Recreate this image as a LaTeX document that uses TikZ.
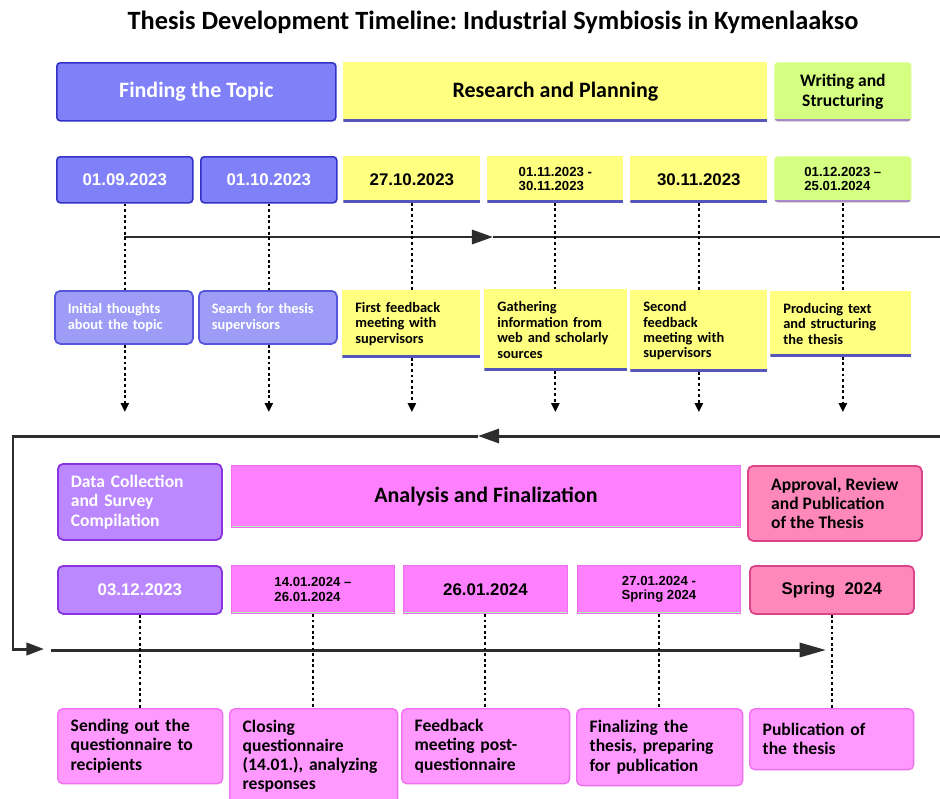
\documentclass[tikz,border=0pt]{standalone}
\usepackage{fontspec}
\setmainfont{Carlito}
\newfontfamily\datefont{Liberation Sans}
\usetikzlibrary{arrows.meta}
\frenchspacing

\definecolor{topicblue}{RGB}{128,128,248}
\definecolor{topicedge}{RGB}{50,50,200}
\definecolor{noteblue}{RGB}{157,157,248}
\definecolor{noteedge}{RGB}{85,85,221}
\definecolor{planyellow}{RGB}{255,255,128}
\definecolor{planedge}{RGB}{85,85,187}
\definecolor{writegreen}{RGB}{212,255,128}
\definecolor{writeedge}{RGB}{170,136,204}
\definecolor{datapurple}{RGB}{187,136,255}
\definecolor{dataedge}{RGB}{136,51,221}
\definecolor{finmagenta}{RGB}{255,128,255}
\definecolor{finedge}{RGB}{170,255,170}
\definecolor{notemagenta}{RGB}{255,153,255}
\definecolor{notemagentaedge}{RGB}{240,110,240}
\definecolor{pubpink}{RGB}{255,136,187}
\definecolor{pubedge}{RGB}{221,68,136}
\definecolor{linegrey}{RGB}{45,45,45}

\begin{document}
\begin{tikzpicture}[x=0.02cm, y=-0.02cm,
    box/.style 2 args={anchor=north west, minimum width=#1*0.02cm,
      minimum height=#2*0.02cm, inner sep=0pt, align=center},
    note/.style 2 args={anchor=north west, text width=#1*0.02cm-0.52cm,
      minimum height=#2*0.02cm, inner xsep=0.26cm, inner ysep=0pt, align=left,
      font=\bfseries\fontsize{8.2}{8.8}\selectfont},
    under/.style={path picture={\draw[#1, line width=2.2pt]
      (path picture bounding box.south west) -- (path picture bounding box.south east);}},
    phase/.style={font=\bfseries\fontsize{12.5}{14}\selectfont},
    subphase/.style={font=\bfseries\fontsize{10}{11}\selectfont},
    day/.style={font=\datefont\bfseries\fontsize{9.6}{11}\selectfont},
    span/.style={font=\datefont\bfseries\fontsize{7.5}{8}\selectfont, align=left},
    topicbox/.style={fill=topicblue, draw=topicedge, line width=0.9pt, rounded corners=2pt, text=white},
    topicnote/.style={fill=noteblue, draw=noteedge, line width=1pt, rounded corners=3pt, text=white},
    planbox/.style={fill=planyellow, under=planedge},
    writebox/.style={fill=writegreen, rounded corners=2pt, under=writeedge},
    databox/.style={fill=datapurple, draw=dataedge, line width=1pt, rounded corners=3pt, text=white},
    finbox/.style={fill=finmagenta, draw=notemagentaedge, line width=0.5pt, under=finedge},
    finnote/.style={fill=notemagenta, draw=notemagentaedge, line width=0.8pt, rounded corners=3pt,
      font=\bfseries\fontsize{10}{11}\selectfont},
    pubbox/.style={fill=pubpink, draw=pubedge, line width=1pt, rounded corners=3pt},
    timeline/.style={draw=linegrey, line width=1.7pt},
    dots/.style={line width=1.2pt, dash pattern=on 1.6pt off 1.6pt},
    drop/.style={-{Triangle[length=5pt, width=4.5pt]}}]
  \path[use as bounding box, fill=white] (0,0) rectangle (940,798);
  \node[font=\bfseries\fontsize{15}{17}\selectfont] (title) at (493,22)
    {Thesis Development Timeline: Industrial Symbiosis in Kymenlaakso};

  % first half: 2023
  \node[box={279}{58}, topicbox, phase] (topic) at (56,62) {Finding the Topic};
  \node[box={424}{59}, planbox, phase] (research) at (343,62) {Research and Planning};
  \node[box={137}{59}, writebox, subphase] (writing) at (774,62) {Writing and\\Structuring};

  \node[box={136}{46}, topicbox, day] (d1) at (56,156) {01.09.2023};
  \node[box={136}{46}, topicbox, day] (d2) at (200,156) {01.10.2023};
  \node[box={137}{46}, planbox, day] (d3) at (343,156) {27.10.2023};
  \node[box={136}{46}, planbox, span] (d4) at (487,156) {01.11.2023 -\\30.11.2023};
  \node[box={137}{46}, planbox, day] (d5) at (630,156) {30.11.2023};
  \node[box={137}{46}, writebox, span] (d6) at (774,156) {01.12.2023 –\\25.01.2024};

  \node[note={138}{53}, topicnote] (n1) at (54,290) {Initial thoughts\\about the topic};
  \node[note={138}{53}, topicnote] (n2) at (198,290) {Search for thesis\\supervisors};
  \node[note={138}{67}, planbox] (n3) at (342,290) {First feedback\\meeting with\\supervisors};
  \node[note={143}{81}, planbox] (n4) at (484,289) {Gathering\\information from\\web and scholarly\\sources};
  \node[note={137}{81}, planbox] (n5) at (630,290) {Second\\feedback\\meeting with\\supervisors};
  \node[note={141}{65}, planbox] (n6) at (770,291) {Producing text\\and structuring\\the thesis};

  % second half: 2024
  \node[note={164}{76}, databox, subphase] (collect) at (57,463) {Data Collection\\and Survey\\Compilation};
  \node[box={509}{62}, finbox, phase] (analysis) at (231,465) {Analysis and Finalization};
  \node[box={174}{75}, pubbox, subphase, align=left] (approval) at (747,465) {Approval, Review\\and Publication\\of the Thesis};

  \node[box={164}{48}, databox, day] (e1) at (57,565) {03.12.2023};
  \node[box={163}{48}, finbox, span] (e2) at (231,565) {14.01.2024 –\\26.01.2024};
  \node[box={164}{48}, finbox, day] (e3) at (403,565) {26.01.2024};
  \node[box={163}{48}, finbox, span, align=center] (e4) at (577,565) {27.01.2024 -\\Spring 2024};
  \node[box={164}{48}, pubbox, day] (e5) at (749,565) {Spring\ \ 2024};

  \node[note={165}{75}, finnote] (m1) at (57,708) {Sending out the\\questionnaire to\\recipients};
  \node[note={168}{95}, finnote] (m2) at (229,708) {Closing\\questionnaire\\(14.01.), analyzing\\responses};
  \node[note={168}{75}, finnote] (m3) at (401,708) {Feedback\\meeting post-\\questionnaire};
  \node[note={166}{77}, finnote] (m4) at (576,708) {Finalizing the\\thesis, preparing\\for publication};
  \node[note={164}{61}, finnote] (m5) at (749,708) {Publication of\\the thesis};

  % timeline, wrapped round to the second half
  \coordinate (ts) at (124,237);
  \coordinate (tm) at (493,237);
  \coordinate (te) at (940,237);
  \coordinate (us) at (940,436);
  \coordinate (um) at (478,436);
  \coordinate (uc) at (13,436);
  \coordinate (vc) at (13,649);
  \coordinate (vt) at (44,649);
  \coordinate (ws) at (51,650);
  \coordinate (we) at (826,650);
  \coordinate (low) at (0,412);
  \draw[timeline, -{Triangle[length=12pt, width=8pt]}] (ts) -- (tm);
  \draw[timeline] (tm) -- (te);
  \draw[timeline, -{Triangle[length=12pt, width=8pt]}] (us) -- (um);
  \draw[timeline, -{Triangle[length=10pt, width=7pt]}] (um) -- (uc) -- (vc) -- (vt);
  \draw[timeline, -{Triangle[length=15pt, width=8pt]}] (ws) -- (we);

  \draw[dots] (d1.south) -- (d1.south |- n1.north)
              (d2.south) -- (d2.south |- n2.north)
              (d3.south) -- (d3.south |- n3.north)
              (d4.south) -- (d4.south |- n4.north)
              (d5.south) -- (d5.south |- n5.north)
              (d6.south) -- (d6.south |- n6.north);
  \draw[dots] (n1.south -| d1.south) edge[drop] (d1.south |- low)
              (n2.south -| d2.south) edge[drop] (d2.south |- low)
              (n3.south -| d3.south) edge[drop] (d3.south |- low)
              (n4.south -| d4.south) edge[drop] (d4.south |- low)
              (n5.south -| d5.south) edge[drop] (d5.south |- low)
              (n6.south -| d6.south) edge[drop] (d6.south |- low);
  \draw[dots] (e1.south) -- (e1.south |- m1.north)
              (e2.south) -- (e2.south |- m2.north)
              (e3.south) -- (e3.south |- m3.north)
              (e4.south) -- (e4.south |- m4.north)
              (e5.south) -- (e5.south |- m5.north);
\end{tikzpicture}
\end{document}
